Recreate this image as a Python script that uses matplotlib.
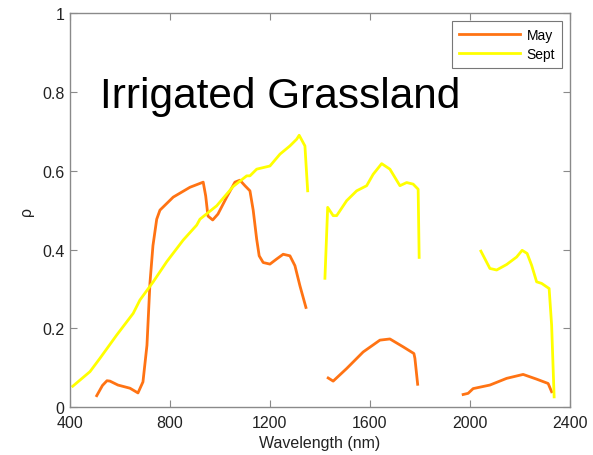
import matplotlib
matplotlib.use("Agg")
import matplotlib.pyplot as plt
import numpy as np

# May spectrum, three segments (water absorption bands removed)
may_wl_1 = [507, 530, 548, 560, 592, 640, 672, 692, 708, 720, 732, 747, 760, 813, 880, 933,
            943, 952, 971, 992, 1027, 1060, 1080, 1100, 1120, 1133, 1147, 1157, 1173, 1200,
            1227, 1253, 1280, 1300, 1320, 1344]
may_rho_1 = [0.029, 0.055, 0.067, 0.066, 0.056, 0.048, 0.036, 0.064, 0.157, 0.315, 0.41, 0.477,
             0.50, 0.533, 0.558, 0.571, 0.536, 0.485, 0.475, 0.49, 0.533, 0.571, 0.576, 0.562,
             0.549, 0.50, 0.426, 0.384, 0.367, 0.363, 0.376, 0.388, 0.384, 0.359, 0.308, 0.253]
may_wl_2 = [1433, 1453, 1507, 1573, 1640, 1680, 1733, 1776, 1780, 1791]
may_rho_2 = [0.074, 0.066, 0.098, 0.14, 0.17, 0.173, 0.153, 0.136, 0.124, 0.058]
may_wl_3 = [1973, 1993, 2013, 2080, 2147, 2213, 2267, 2313, 2327]
may_rho_3 = [0.032, 0.035, 0.047, 0.056, 0.073, 0.083, 0.071, 0.06, 0.039]

# September spectrum
sept_wl_1 = [411, 480, 520, 587, 653, 680, 733, 787, 853, 907, 920, 987, 1053, 1107, 1120,
             1147, 1160, 1200, 1240, 1280, 1307, 1317, 1340, 1344, 1351]
sept_rho_1 = [0.053, 0.09, 0.124, 0.183, 0.238, 0.272, 0.318, 0.369, 0.424, 0.462, 0.477,
              0.511, 0.56, 0.587, 0.587, 0.604, 0.606, 0.612, 0.642, 0.663, 0.68, 0.69, 0.663,
              0.621, 0.549]
sept_wl_2 = [1420, 1431, 1453, 1467, 1507, 1547, 1587, 1613, 1647, 1680, 1720, 1747, 1773,
             1793, 1797]
sept_rho_2 = [0.327, 0.507, 0.486, 0.486, 0.524, 0.549, 0.562, 0.591, 0.618, 0.604, 0.562,
              0.57, 0.566, 0.553, 0.38]
sept_wl_3 = [2044, 2080, 2107, 2147, 2187, 2209, 2229, 2247, 2267, 2287, 2317, 2327, 2337]
sept_rho_3 = [0.396, 0.352, 0.348, 0.362, 0.381, 0.398, 0.39, 0.36, 0.318, 0.314, 0.301,
              0.208, 0.026]

x_ticks = [400, 800, 1200, 1600, 2000, 2400]
y_ticks = [0, 0.2, 0.4, 0.6, 0.8, 1]
y_tick_labels = ["0", "0.2", "0.4", "0.6", "0.8", "1"]

plt.rcParams['font.family'] = ['Liberation Sans', 'DejaVu Sans']

orange = '#FF7313'
yellow = '#FFFF00'

fig = plt.figure(figsize=(5.93, 4.56), dpi=100)
ax = fig.add_axes([0.118, 0.105, 0.843, 0.864])

lw = 2.0
ax.plot(may_wl_1, may_rho_1, color=orange, lw=lw, label='May')
ax.plot(may_wl_2, may_rho_2, color=orange, lw=lw)
ax.plot(may_wl_3, may_rho_3, color=orange, lw=lw)
ax.plot(sept_wl_1, sept_rho_1, color=yellow, lw=lw, label='Sept')
ax.plot(sept_wl_2, sept_rho_2, color=yellow, lw=lw)
ax.plot(sept_wl_3, sept_rho_3, color=yellow, lw=lw)

ax.set_xlim(400, 2400)
ax.set_ylim(0, 1)
ax.set_xticks(x_ticks)
ax.set_xticklabels([str(t) for t in x_ticks])
ax.set_yticks(y_ticks)
ax.set_yticklabels(y_tick_labels)

for s in ax.spines.values():
    s.set_color('#8a8a8a')
    s.set_linewidth(1.0)
ax.tick_params(direction='in', length=5, color='#8a8a8a', labelsize=11.5,
               labelcolor='#222222', top=True, right=True)
ax.tick_params(axis='x', pad=6)
ax.tick_params(axis='y', pad=4)

ax.set_xlabel('Wavelength (nm)', fontsize=11.5, color='#222222', labelpad=3)
ax.set_ylabel('ρ', fontsize=11.5, color='#222222', labelpad=6)

ax.text(520, 0.79, 'Irrigated Grassland', fontsize=30.5, va='center', ha='left', color='black')

leg = ax.legend(loc='upper right', fontsize=10, frameon=True, fancybox=False,
                handlelength=4.4, borderaxespad=0.6, labelspacing=0.4, handletextpad=0.5,
                borderpad=0.45)
leg.get_frame().set_edgecolor('#555555')
leg.get_frame().set_linewidth(0.8)

fig.savefig('out.png', dpi=100)
